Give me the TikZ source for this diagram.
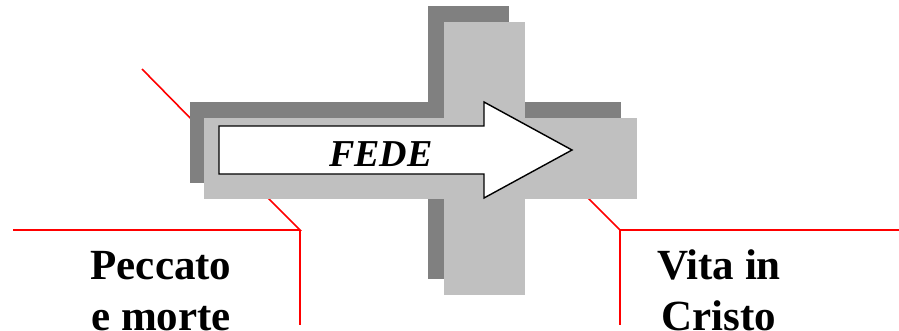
\documentclass[tikz,border=0pt]{standalone}
\usepackage{fontspec}
\setmainfont{Liberation Serif}
\begin{document}
\begin{tikzpicture}[x=1pt,y=-1pt,
  redline/.style={draw=red,line width=1.6pt},
  darkpart/.style={fill=darkgraycol,draw=none},
  lightpart/.style={fill=lightgraycol,draw=none},
  bigarrow/.style={draw=black,fill=white,line width=1.4pt,line join=miter},
  label/.style={font=\fontsize{43}{51}\selectfont\bfseries,align=center,inner sep=0pt,anchor=base}]
\definecolor{darkgraycol}{HTML}{808080}
\definecolor{lightgraycol}{HTML}{C0C0C0}
\useasboundingbox (0,0) rectangle (899,330);
% red connector lines (behind the cross)
\coordinate (ul1) at (142,69);
\coordinate (ul2) at (200,128);
\draw[redline] (ul1) -- (ul2);
\coordinate (ls) at (255,185);
\coordinate (lc) at (300,230);
\coordinate (ll) at (13,230);
\coordinate (lb) at (300,325);
\draw[redline] (ls) -- (lc) -- (ll);
\draw[redline] (lc) -- (lb);
\coordinate (rs) at (575,185);
\coordinate (rc) at (620,230);
\coordinate (rr) at (899,230);
\coordinate (rb) at (620,325);
\draw[redline] (rs) -- (rc) -- (rr);
\draw[redline] (rc) -- (rb);
% shadow cross
\fill[darkpart] (190,102) rectangle (621,183);
\fill[darkpart] (428,6) rectangle (509,279);
% front cross
\fill[lightpart] (204,118) rectangle (637,199);
\fill[lightpart] (444,22) rectangle (525,295);
% arrow
\draw[bigarrow] (219,126) -- (484,126) -- (484,102) -- (572,150) -- (484,198) -- (484,174) -- (219,174) -- cycle;
\node[inner sep=0pt,anchor=base,font=\fontsize{38}{44}\selectfont\bfseries\itshape] (fede) at (381,166) {FEDE};
% labels
\node[label] (peccato) at (161,330) {Peccato\\e morte};
\node[label] (vita) at (719,330) {Vita in\\Cristo};
\end{tikzpicture}
\end{document}
